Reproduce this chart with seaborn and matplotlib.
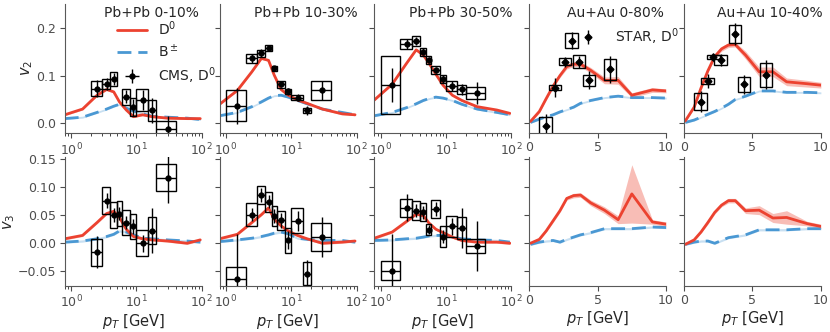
import numpy as np
import seaborn as sns
import matplotlib.pyplot as plt
from matplotlib.patches import Rectangle

nan = np.nan

# CMS D0 pT bins (Pb+Pb)
cms_pt = [1.5, 2.5, 3.5, 4.5, 5.5, 7, 9, 12.5, 17.5, 30]
cms_lo = [1, 2, 3, 4, 5, 6, 8, 10, 15, 20]
cms_hi = [2, 3, 4, 5, 6, 8, 10, 15, 20, 40]

cms_v2_0010 = [nan, 0.073, 0.082, 0.093, nan, 0.056, 0.034, 0.049, 0.027, -0.012]
cms_v2_0010_stat = [nan, 0.018, 0.012, 0.013, nan, 0.013, 0.018, 0.020, 0.026, 0.028]
cms_v2_0010_sys = [nan, 0.015, 0.011, 0.015, nan, 0.017, 0.019, 0.023, 0.021, 0.018]

cms_v2_1030 = [0.037, 0.136, 0.147, 0.158, 0.115, 0.082, 0.067, 0.054, 0.027, 0.069]
cms_v2_1030_stat = [0.038, 0.010, 0.008, 0.006, 0.006, 0.006, 0.007, 0.008, 0.010, 0.020]
cms_v2_1030_sys = [0.032, 0.009, 0.007, 0.006, 0.006, 0.007, 0.006, 0.005, 0.006, 0.020]

cms_v2_3050 = [0.080, 0.166, 0.172, 0.150, 0.133, 0.112, 0.093, 0.078, 0.071, 0.064]
cms_v2_3050_stat = [0.036, 0.010, 0.008, 0.007, 0.007, 0.007, 0.008, 0.010, 0.012, 0.023]
cms_v2_3050_sys = [0.061, 0.011, 0.010, 0.008, 0.008, 0.008, 0.008, 0.010, 0.010, 0.012]

cms_v3_0010 = [nan, -0.016, 0.076, 0.050, 0.053, 0.037, 0.030, 0.000, 0.022, 0.117]
cms_v3_0010_stat = [nan, 0.029, 0.013, 0.012, 0.012, 0.012, 0.013, 0.015, 0.040, 0.046]
cms_v3_0010_sys = [nan, 0.024, 0.024, 0.023, 0.023, 0.023, 0.023, 0.023, 0.024, 0.024]

cms_v3_1030 = [-0.063, 0.051, 0.086, 0.074, 0.049, 0.041, 0.005, 0.040, -0.054, 0.011]
cms_v3_1030_stat = [0.080, 0.012, 0.012, 0.012, 0.012, 0.013, 0.016, 0.018, 0.025, 0.035]
cms_v3_1030_sys = [0.020, 0.020, 0.016, 0.018, 0.018, 0.017, 0.023, 0.022, 0.021, 0.025]

cms_v3_3050 = [-0.049, 0.063, 0.058, 0.055, 0.024, 0.061, 0.012, 0.030, 0.027, -0.005]
cms_v3_3050_stat = [0.066, 0.024, 0.012, 0.012, 0.008, 0.012, 0.012, 0.015, 0.035, 0.045]
cms_v3_3050_sys = [0.017, 0.016, 0.017, 0.016, 0.010, 0.016, 0.018, 0.018, 0.020, 0.012]

# STAR D0 v2 (Au+Au)
star_pt_080 = [1.2, 1.9, 2.6, 3.1, 3.65, 4.35, 5.9]
star_v2_080 = [-0.005, 0.075, 0.129, 0.173, 0.129, 0.090, 0.113]
star_v2_080_stat = [0.025, 0.019, 0.011, 0.018, 0.012, 0.019, 0.029]
star_v2_080_sys = [0.018, 0.005, 0.007, 0.016, 0.014, 0.011, 0.022]

star_pt_1040 = [1.22, 1.73, 2.15, 2.68, 3.73, 4.39, 6.0]
star_v2_1040 = [0.045, 0.089, 0.139, 0.133, 0.188, 0.082, 0.102]
star_v2_1040_stat = [0.022, 0.014, 0.008, 0.013, 0.023, 0.020, 0.030]
star_v2_1040_sys = [0.018, 0.006, 0.005, 0.010, 0.019, 0.016, 0.025]
star_halfwidth = 0.45

# model curves, Pb+Pb
mod_pt = [0.8, 1.5, 2.5, 3.5, 4.5, 5.5, 7, 9, 12.5, 17.5, 30, 60, 95]
d_v2_0010 = [0.018, 0.030, 0.059, 0.071, 0.066, 0.045, 0.028, 0.014, 0.018, 0.014, 0.011, 0.010, 0.010]
b_v2_0010 = [0.010, 0.013, 0.023, 0.030, 0.036, 0.040, 0.032, 0.026, 0.020, 0.015, 0.013, 0.011, 0.008]
d_v2_1030 = [0.040, 0.069, 0.108, 0.136, 0.132, 0.101, 0.071, 0.059, 0.049, 0.042, 0.030, 0.020, 0.018]
b_v2_1030 = [0.016, 0.023, 0.035, 0.045, 0.053, 0.058, 0.059, 0.055, 0.048, 0.041, 0.030, 0.023, 0.018]
d_v2_3050 = [0.049, 0.082, 0.126, 0.154, 0.143, 0.126, 0.103, 0.080, 0.059, 0.048, 0.035, 0.028, 0.021]
b_v2_3050 = [0.016, 0.023, 0.033, 0.041, 0.048, 0.052, 0.055, 0.053, 0.048, 0.040, 0.030, 0.023, 0.018]
d_v3_0010 = [0.008, 0.014, 0.037, 0.053, 0.057, 0.046, 0.025, 0.012, 0.008, 0.006, 0.004, 0.000, 0.006]
b_v3_0010 = [0.002, 0.004, 0.008, 0.012, 0.016, 0.022, 0.020, 0.015, 0.009, 0.008, 0.006, 0.004, 0.002]
d_v3_1030 = [0.008, 0.016, 0.037, 0.051, 0.063, 0.043, 0.031, 0.022, 0.014, 0.008, 0.000, 0.002, 0.004]
b_v3_1030 = [0.003, 0.006, 0.009, 0.012, 0.015, 0.018, 0.020, 0.017, 0.009, 0.007, 0.005, 0.005, 0.002]
d_v3_3050 = [0.009, 0.020, 0.039, 0.052, 0.049, 0.036, 0.025, 0.019, 0.011, 0.005, 0.002, 0.002, 0.000]
b_v3_3050 = [0.005, 0.006, 0.008, 0.009, 0.011, 0.013, 0.014, 0.014, 0.011, 0.008, 0.006, 0.005, 0.002]

# model curves, Au+Au
au_pt = [0.1, 0.75, 1.25, 1.75, 2.25, 2.75, 3.25, 3.75, 4.5, 5.5, 6.5, 7.5, 9, 10]
d_v2_080 = [0.004, 0.025, 0.052, 0.078, 0.100, 0.119, 0.124, 0.124, 0.111, 0.090, 0.090, 0.059, 0.070, 0.068]
d_v2_080_err = [0.002, 0.003, 0.003, 0.004, 0.004, 0.005, 0.005, 0.005, 0.006, 0.007, 0.008, 0.005, 0.005, 0.004]
b_v2_080 = [0.002, 0.009, 0.014, 0.018, 0.024, 0.029, 0.034, 0.042, 0.048, 0.054, 0.057, 0.054, 0.054, 0.053]
d_v2_1040 = [0.005, 0.034, 0.074, 0.110, 0.140, 0.156, 0.164, 0.165, 0.143, 0.108, 0.108, 0.087, 0.083, 0.080]
d_v2_1040_err = [0.002, 0.003, 0.004, 0.004, 0.004, 0.005, 0.005, 0.005, 0.008, 0.010, 0.010, 0.008, 0.007, 0.006]
b_v2_1040 = [0.002, 0.007, 0.013, 0.019, 0.025, 0.032, 0.040, 0.050, 0.057, 0.068, 0.068, 0.065, 0.065, 0.064]
d_v3_080 = [0.000, 0.007, 0.022, 0.040, 0.058, 0.080, 0.085, 0.086, 0.072, 0.059, 0.042, 0.088, 0.038, 0.034]
d_v3_080_err = [0.001, 0.002, 0.002, 0.003, 0.003, 0.003, 0.004, 0.004, 0.005, 0.006, 0.007, 0.052, 0.004, 0.004]
b_v3_080 = [-0.002, 0.002, 0.004, 0.005, 0.002, 0.007, 0.011, 0.015, 0.019, 0.026, 0.026, 0.026, 0.029, 0.028]
d_v3_1040 = [-0.002, 0.006, 0.020, 0.037, 0.055, 0.068, 0.076, 0.076, 0.058, 0.059, 0.045, 0.046, 0.035, 0.030]
d_v3_1040_err = [0.001, 0.002, 0.002, 0.003, 0.003, 0.003, 0.004, 0.004, 0.005, 0.008, 0.008, 0.012, 0.004, 0.004]
b_v3_1040 = [-0.002, 0.002, 0.004, 0.004, 0.000, 0.005, 0.010, 0.012, 0.015, 0.024, 0.024, 0.024, 0.026, 0.026]

titles = ["Pb+Pb 0-10%", "Pb+Pb 10-30%", "Pb+Pb 30-50%", "Au+Au 0-80%", "Au+Au 10-40%"]

red = "#ec4230"
blue = "#4a98d3"

sns.set_style("ticks")
plt.rcParams["font.family"] = ["DejaVu Sans"]
plt.rcParams["font.size"] = 9

fig, axes = plt.subplots(2, 5, figsize=(8.3, 3.32), dpi=100)
fig.subplots_adjust(left=0.078, right=0.989, top=0.988, bottom=0.139, wspace=0.13, hspace=0.186)


def model(ax, x, d, d_err, b):
    d = np.array(d)
    b = np.array(b)
    ax.fill_between(x, d - d_err, d + d_err, color=red, alpha=0.35, lw=0)
    ax.fill_between(x, b - 0.002, b + 0.002, color=blue, alpha=0.3, lw=0)
    sns.lineplot(x=x, y=b, ax=ax, color=blue, lw=2, linestyle=(0, (5, 2.5)),
                 estimator=None, sort=False)
    sns.lineplot(x=x, y=d, ax=ax, color=red, lw=2, estimator=None, sort=False)


def data(ax, x, lo, hi, v, stat, sys, marker, xerr=True):
    for xl, xh, vv, ss in zip(lo, hi, v, sys):
        if np.isnan(vv):
            continue
        ax.add_patch(Rectangle((xl, vv - ss), xh - xl, 2 * ss, fill=False, ec="k", lw=1, zorder=4))
    xe = None
    if xerr:
        xe = [np.array(x) - np.array(lo), np.array(hi) - np.array(x)]
    return ax.errorbar(x, v, yerr=stat, xerr=xe, fmt=marker, color="k", ms=3.5,
                       elinewidth=1, capsize=0, zorder=5)


cms_v2 = [(cms_v2_0010, cms_v2_0010_stat, cms_v2_0010_sys),
          (cms_v2_1030, cms_v2_1030_stat, cms_v2_1030_sys),
          (cms_v2_3050, cms_v2_3050_stat, cms_v2_3050_sys)]
cms_v3 = [(cms_v3_0010, cms_v3_0010_stat, cms_v3_0010_sys),
          (cms_v3_1030, cms_v3_1030_stat, cms_v3_1030_sys),
          (cms_v3_3050, cms_v3_3050_stat, cms_v3_3050_sys)]
pb_v2 = [(d_v2_0010, b_v2_0010), (d_v2_1030, b_v2_1030), (d_v2_3050, b_v2_3050)]
pb_v3 = [(d_v3_0010, b_v3_0010), (d_v3_1030, b_v3_1030), (d_v3_3050, b_v3_3050)]

handles = {}
for i in range(3):
    ax = axes[0, i]
    model(ax, mod_pt, pb_v2[i][0], 0.002, pb_v2[i][1])
    h = data(ax, cms_pt, cms_lo, cms_hi, *cms_v2[i], "o")
    if i == 0:
        handles["cms"] = h
    ax = axes[1, i]
    model(ax, mod_pt, pb_v3[i][0], 0.002, pb_v3[i][1])
    data(ax, cms_pt, cms_lo, cms_hi, *cms_v3[i], "o")

au_v2 = [(d_v2_080, d_v2_080_err, b_v2_080), (d_v2_1040, d_v2_1040_err, b_v2_1040)]
au_v3 = [(d_v3_080, d_v3_080_err, b_v3_080), (d_v3_1040, d_v3_1040_err, b_v3_1040)]
star = [(star_pt_080, star_v2_080, star_v2_080_stat, star_v2_080_sys),
        (star_pt_1040, star_v2_1040, star_v2_1040_stat, star_v2_1040_sys)]
for j in range(2):
    ax = axes[0, 3 + j]
    model(ax, au_pt, *au_v2[j])
    sx, sv, st, ss = star[j]
    lo = [p - star_halfwidth for p in sx]
    hi = [p + star_halfwidth for p in sx]
    h = data(ax, sx, lo, hi, sv, st, ss, "D", xerr=False)
    if j == 0:
        handles["star"] = h
    ax = axes[1, 3 + j]
    model(ax, au_pt, *au_v3[j])

for r in range(2):
    for c in range(5):
        ax = axes[r, c]
        if c < 3:
            ax.set_xscale("log")
            ax.set_xlim(0.8, 100)
        else:
            ax.set_xlim(0, 10)
            ax.set_xticks([0, 5, 10])
        if r == 0:
            ax.set_ylim(-0.02, 0.25)
            ax.set_yticks([0.0, 0.1, 0.2])
            ax.text(0.63, 0.93, titles[c], transform=ax.transAxes, ha="center",
                    va="center", fontsize=10)
        else:
            ax.set_ylim(-0.076, 0.154)
            ax.set_yticks([-0.05, 0.0, 0.05, 0.10, 0.15])
            ax.set_xlabel("$p_T$ [GeV]", fontsize=10.5, labelpad=1)
        if c > 0:
            ax.tick_params(labelleft=False)
        ax.set_ylabel("")
        ax.tick_params(labelsize=9, colors=".3", pad=2.5)
        sns.despine(ax=ax)
        for s in ["left", "bottom"]:
            ax.spines[s].set_color(".35")

axes[0, 0].set_ylabel("$v_2$", fontsize=10.5, labelpad=1)
axes[1, 0].set_ylabel("$v_3$", fontsize=10.5, labelpad=1)
axes[0, 0].yaxis.set_major_formatter(plt.FormatStrFormatter("%.1f"))
axes[1, 0].yaxis.set_major_formatter(plt.FuncFormatter(lambda v, p: f"{v:.2f}".replace("-", "\u2212")))

ax0 = axes[0, 0]
line_d = ax0.lines[1]
line_b = ax0.lines[0]
ax0.legend([line_d, line_b, handles["cms"]], ["D$^0$", "B$^\\pm$", "CMS, D$^0$"],
           loc="upper left", bbox_to_anchor=(0.38, 0.88), frameon=False,
           borderpad=0, borderaxespad=0, handlelength=2.2, fontsize=10,
           labelspacing=0.35)
axes[0, 3].legend([handles["star"]], ["STAR, D$^0$"], loc="upper left",
                  bbox_to_anchor=(0.32, 0.83), frameon=False, borderpad=0,
                  borderaxespad=0, handlelength=2.2, fontsize=10)

fig.savefig("out.png", dpi=100)
